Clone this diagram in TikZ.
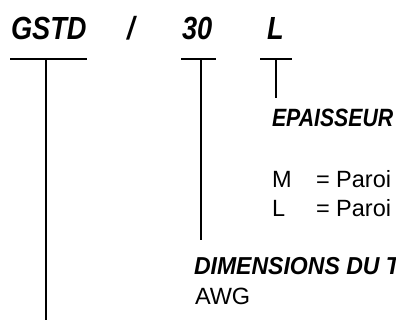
\documentclass[tikz,border=0pt]{standalone}
\usepackage{fontspec}
\setmainfont{Liberation Sans}
\newfontfamily\bigfam{Liberation Sans}[FakeStretch=0.85]
\newfontfamily\epfam{Liberation Sans}[FakeStretch=0.85]
\newfontfamily\dimfam{Liberation Sans}[FakeStretch=0.94]
\begin{document}
\begin{tikzpicture}[x=1pt,y=-1pt,
  txt/.style={anchor=base west,inner sep=0pt,outer sep=0pt},
  big/.style={txt,font=\bigfam\fontsize{32}{32}\selectfont\bfseries\itshape},
  headep/.style={txt,font=\epfam\fontsize{25}{25}\selectfont\bfseries\itshape},
  headdim/.style={txt,font=\dimfam\fontsize{24.5}{24.5}\selectfont\bfseries\itshape},
  body/.style={txt,font=\fontsize{23.5}{23.5}\selectfont},
  bar/.style={line width=1.6pt}]
\useasboundingbox (0,0) rectangle (396,320);
\begin{scope}
\clip (0,0) rectangle (396,320);
\node[big] (gstd) at (11,40) {GSTD};
\node[big] (slash) at (127,40) {/};
\node[big] (n30) at (182,40) {30};
\node[big] (nl) at (267,40) {L};
% bars
\coordinate (g1) at (10,59); \coordinate (g2) at (87,59);
\coordinate (gt) at (46,59); \coordinate (gb) at (46,320);
\coordinate (t1) at (181,59); \coordinate (t2) at (216,59);
\coordinate (tt) at (201,59); \coordinate (tb) at (201,240);
\coordinate (l1) at (260,59); \coordinate (l2) at (292,59);
\coordinate (lt) at (276,59); \coordinate (lb) at (276,98);
\draw[bar] (g1) -- (g2); \draw[bar] (gt) -- (gb);
\draw[bar] (t1) -- (t2); \draw[bar] (tt) -- (tb);
\draw[bar] (l1) -- (l2); \draw[bar] (lt) -- (lb);
\node[headep] (ep) at (272,127) {EPAISSEUR};
\node[body] (m) at (272,188) {M};
\node[body] (meq) at (316,188) {= Paroi};
\node[body] (l) at (272,217) {L};
\node[body] (leq) at (316,217) {= Paroi};
\node[headdim] (dim) at (194,275) {DIMENSIONS DU TUBE};
\node[body] (awg) at (195,305) {AWG};
\end{scope}
\end{tikzpicture}
\end{document}
